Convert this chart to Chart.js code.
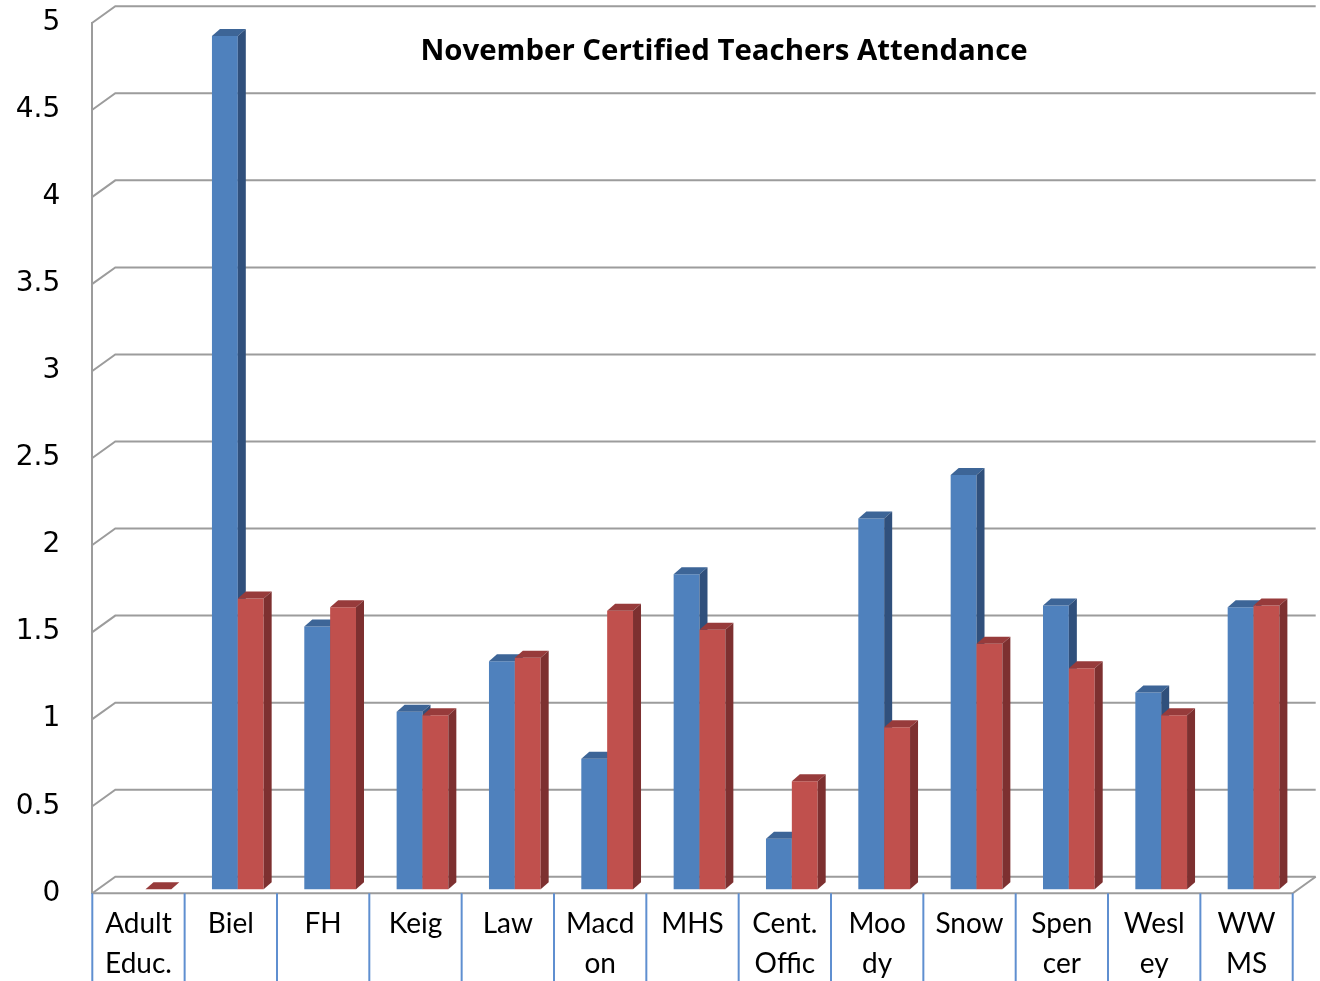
<!DOCTYPE html>
<html>
<head>
<meta charset="utf-8">
<script src="https://cdn.jsdelivr.net/npm/chart.js@4.4.0/dist/chart.umd.min.js"></script>
<style>
    html, body { margin: 0; padding: 0; background: #ffffff; overflow: hidden; }
    #contenedor { width: 1320px; height: 981px; position: relative; }
</style>
</head>
<body>
<div id="contenedor"><canvas id="grafico_asistencia"></canvas></div>
<script>
// DATOS DEL GRÁFICO
var escuelas = [['Adult', 'Educ.'], 'Biel', 'FH', 'Keig', 'Law', ['Macd', 'on'], 'MHS', ['Cent.', 'Offic'], ['Moo', 'dy'], 'Snow', ['Spen', 'cer'], ['Wesl', 'ey'], ['WW', 'MS']];
var serie_azul = [null, 4.9, 1.51, 1.02, 1.31, 0.75, 1.81, 0.29, 2.13, 2.38, 1.63, 1.13, 1.62];
var serie_roja = [0, 1.67, 1.62, 1.0, 1.33, 1.6, 1.49, 0.62, 0.93, 1.41, 1.27, 1.0, 1.63];
var ticks_y = [0, 0.5, 1, 1.5, 2, 2.5, 3, 3.5, 4, 4.5, 5];
var titulo = 'November Certified Teachers Attendance';

// ESTILO 3D
var DX_PARED = 23, DY_PARED = -16.5;
var DX_BARRA = 8, DY_BARRA = -7;
var DESPLAZ_X = 7, DESPLAZ_Y = -4;
var COLOR_GRILLA = '#9c9c9c';
var caras = [
    { frente: '#4f81bd', arriba: '#3d6597', lado: '#30507c' },
    { frente: '#c0504d', arriba: '#973b3b', lado: '#7d3030' }
];

// PLUGIN: PAREDES, PISO Y CARAS DE LAS BARRAS
var plugin_3d = {
    id: 'efecto3d',
    beforeDatasetsDraw: function(chart) {
        var ctx = chart.ctx;
        var area = chart.chartArea;
        var ys = chart.scales.y;
        ctx.save();
        ctx.strokeStyle = COLOR_GRILLA;
        ctx.lineWidth = 2;
        ticks_y.forEach(function(v) {
            var y = ys.getPixelForValue(v);
            ctx.beginPath();
            ctx.moveTo(area.left, y);
            ctx.lineTo(area.left + DX_PARED, y + DY_PARED);
            ctx.lineTo(area.right + DX_PARED, y + DY_PARED);
            ctx.stroke();
        });
        // piso
        ctx.beginPath();
        ctx.moveTo(area.left, area.bottom);
        ctx.lineTo(area.right, area.bottom);
        ctx.lineTo(area.right + DX_PARED, area.bottom + DY_PARED);
        ctx.stroke();
        ctx.restore();
    },
    // las barras se dibujan a mano, en orden, para que el rojo tape el lado del azul
    beforeDatasetDraw: function() {
        return false;
    },
    afterDatasetsDraw: function(chart) {
        var ctx = chart.ctx;
        ctx.save();
        ctx.translate(DESPLAZ_X, DESPLAZ_Y);
        chart.data.datasets.forEach(function(ds, d) {
            var col = caras[d];
            chart.getDatasetMeta(d).data.forEach(function(el, i) {
                if (ds.data[i] === null || isNaN(el.y)) return;
                el.draw(ctx);
                var x0 = el.x - el.width / 2;
                var x1 = el.x + el.width / 2;
                ctx.fillStyle = col.arriba;
                ctx.beginPath();
                ctx.moveTo(x0, el.y);
                ctx.lineTo(x0 + DX_BARRA, el.y + DY_BARRA);
                ctx.lineTo(x1 + DX_BARRA, el.y + DY_BARRA);
                ctx.lineTo(x1, el.y);
                ctx.closePath();
                ctx.fill();
                ctx.fillStyle = col.lado;
                ctx.beginPath();
                ctx.moveTo(x1, el.y);
                ctx.lineTo(x1 + DX_BARRA, el.y + DY_BARRA);
                ctx.lineTo(x1 + DX_BARRA, el.base + DY_BARRA);
                ctx.lineTo(x1, el.base);
                ctx.closePath();
                ctx.fill();
            });
        });
        ctx.restore();
    },
    afterDraw: function(chart) {
        var ctx = chart.ctx;
        var xs = chart.scales.x;
        var ancho = xs.width / escuelas.length;
        ctx.save();
        // separadores de categorías
        ctx.strokeStyle = '#5f8fd0';
        ctx.lineWidth = 2;
        for (var i = 0; i <= escuelas.length; i++) {
            var x = xs.left + i * ancho;
            ctx.beginPath();
            ctx.moveTo(x, xs.top);
            ctx.lineTo(x, chart.height);
            ctx.stroke();
        }
        // título, ajustado al ancho del original
        ctx.fillStyle = '#000000';
        ctx.font = 'bold 30px "Open Sans"';
        var t = 30 * 608 / ctx.measureText(titulo).width;
        ctx.font = 'bold ' + t.toFixed(1) + 'px "Open Sans"';
        ctx.textAlign = 'center';
        ctx.textBaseline = 'alphabetic';
        ctx.fillText(titulo, 724, 60);
        ctx.restore();
    }
};

// GRÁFICO DE BARRAS
var ctx = document.getElementById('grafico_asistencia').getContext('2d');
new Chart(ctx, {
    type: 'bar',
    data: {
        labels: escuelas,
        datasets: [
            {
                label: 'Serie 1',
                data: serie_azul,
                backgroundColor: caras[0].frente,
                borderWidth: 0
            },
            {
                label: 'Serie 2',
                data: serie_roja,
                backgroundColor: caras[1].frente,
                borderWidth: 0
            }
        ]
    },
    options: {
        responsive: true,
        maintainAspectRatio: false,
        devicePixelRatio: 1,
        animation: false,
        categoryPercentage: 0.56,
        barPercentage: 1.0,
        layout: {
            padding: { left: 0, right: 27.3, top: 22.7, bottom: 0 }
        },
        plugins: {
            legend: { display: false },
            title: { display: false },
            tooltip: { enabled: false }
        },
        scales: {
            y: {
                min: 0,
                max: 5,
                afterFit: function(s) {
                    s.width = 92.3;
                    s.paddingTop = 0;
                    s.paddingBottom = 0;
                },
                afterBuildTicks: function(s) {
                    s.ticks = ticks_y.map(function(v) { return { value: v }; });
                },
                grid: { display: false },
                border: { display: true, color: COLOR_GRILLA, width: 2 },
                ticks: {
                    color: '#000000',
                    padding: 24,
                    font: { family: 'DejaVu Sans', size: 28 },
                    callback: function(v) { return String(v); }
                }
            },
            x: {
                afterFit: function(s) {
                    s.height = 87.7;
                    s.paddingTop = 0;
                    s.paddingBottom = 0;
                },
                grid: { display: false },
                border: { display: false },
                ticks: {
                    color: '#000000',
                    padding: 2,
                    maxRotation: 0,
                    minRotation: 0,
                    autoSkip: false,
                    font: { family: 'Lato', size: 28, lineHeight: 1.45 }
                }
            }
        }
    },
    plugins: [plugin_3d]
});
</script>
</body>
</html>
